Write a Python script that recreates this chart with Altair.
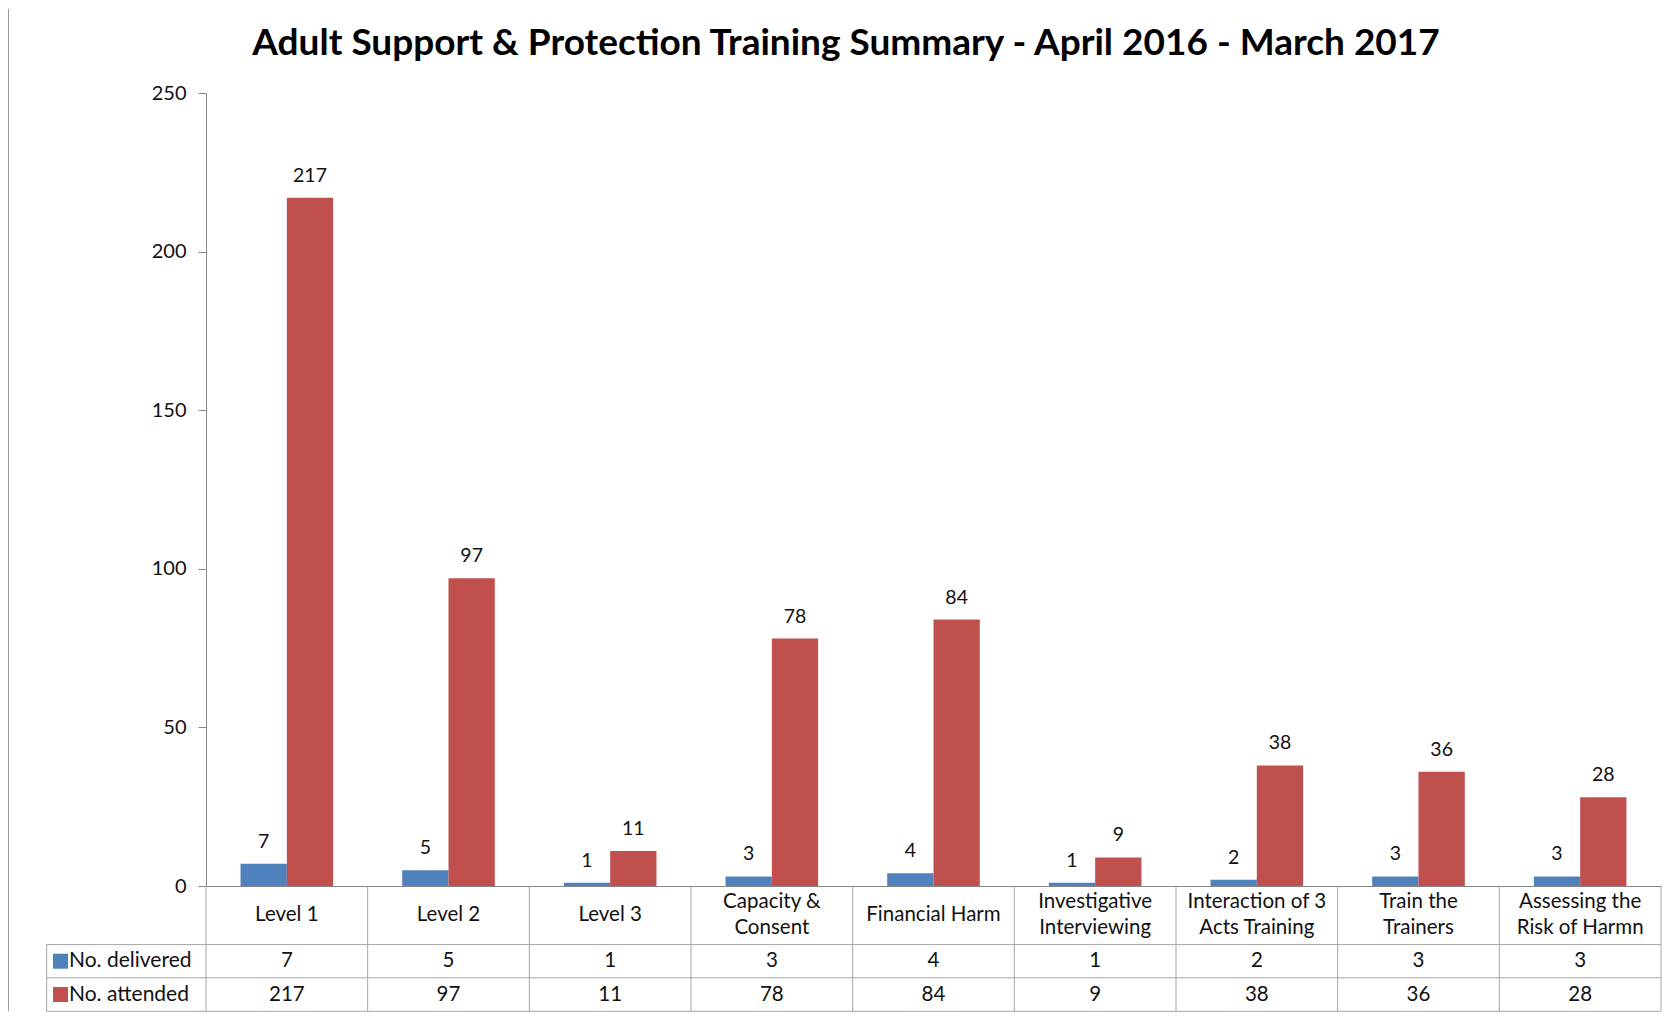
import altair as alt
import pandas as pd

# ---------------- data ----------------
title_text = "Adult Support & Protection Training Summary - April 2016 - March 2017"
categories = ["Level 1", "Level 2", "Level 3", "Capacity & Consent", "Financial Harm",
              "Investigative Interviewing", "Interaction of 3 Acts Training",
              "Train the Trainers", "Assessing the Risk of Harmn"]
category_labels = ["Level 1", "Level 2", "Level 3", "Capacity &\nConsent", "Financial Harm",
                   "Investigative\nInterviewing", "Interaction of 3\nActs Training",
                   "Train the\nTrainers", "Assessing the\nRisk of Harmn"]
series = ["No. delivered", "No. attended"]
delivered = [7, 5, 1, 3, 4, 1, 2, 3, 3]
attended = [217, 97, 11, 78, 84, 9, 38, 36, 28]
y_ticks = [0, 50, 100, 150, 200, 250]
colors = ["#4F81BD", "#C0504D"]

# ---------------- tables built from the lists ----------------
long_rows = []
for c, d, a in zip(categories, delivered, attended):
    long_rows.append({"category": c, "series": series[0], "value": d})
    long_rows.append({"category": c, "series": series[1], "value": a})
long_df = pd.DataFrame(long_rows)
cat_df = pd.DataFrame({"category": categories, "label": category_labels,
                       "delivered": delivered, "attended": attended})
cat_df["multiline"] = cat_df["label"].str.contains("\n")
series_df = pd.DataFrame({"series": series})

# ---------------- style / layout ----------------
FONT = "Lato"
W, H = 1455, 793
HEADER_H, ROW1_H, ROW2_H = 58.6, 33.2, 33.5
LEGCOL_W = 159.3
AXIS_C = "#868686"
GRID_C = "#A5A5A5"
TXT_C = "#111111"
FS_TABLE = 20.5
FS_AXIS = 20
FS_LABEL = 19.5
LINE_H = 25.7

y_hdr_mid = H + HEADER_H / 2
y_r1_top = H + HEADER_H
y_r2_top = y_r1_top + ROW1_H
y_bottom = y_r2_top + ROW2_H
row_mid = [y_r1_top + ROW1_H / 2, y_r2_top + ROW2_H / 2]

x_scale = alt.Scale(domain=categories, paddingInner=0, paddingOuter=0)
x_axis = alt.Axis(labels=False, ticks=False, title=None, domain=True,
                  domainColor=AXIS_C, domainWidth=1, grid=False)
xo_scale = alt.Scale(domain=series, paddingInner=0, paddingOuter=0.746)
color_scale = alt.Scale(domain=series, range=colors)
y_scale = alt.Scale(domain=[0, 250], nice=False, zero=True)
y_axis = alt.Axis(values=y_ticks, title=None, grid=False, domain=True,
                  domainColor=AXIS_C, tickColor=AXIS_C, tickSize=8,
                  labelFont=FONT, labelFontSize=FS_AXIS, labelColor=TXT_C,
                  labelPadding=12)


def X(**kw):
    return alt.X("category:N", scale=x_scale, axis=x_axis, sort=categories, **kw)


bars = alt.Chart(long_df).mark_bar().encode(
    x=X(),
    xOffset=alt.XOffset("series:N", scale=xo_scale, sort=series),
    y=alt.Y("value:Q", scale=y_scale, axis=y_axis),
    color=alt.Color("series:N", scale=color_scale, legend=None),
)

bar_labels = alt.Chart(long_df).mark_text(
    font=FONT, fontSize=FS_LABEL, color=TXT_C, baseline="alphabetic", dy=-16
).encode(
    x=X(),
    xOffset=alt.XOffset("series:N", scale=xo_scale, sort=series),
    y=alt.Y("value:Q", scale=y_scale, axis=y_axis),
    text="value:Q",
)

# table: vertical lines at category edges
vlines = alt.Chart(cat_df).mark_rule(color=GRID_C, strokeWidth=1).encode(
    x=X(bandPosition=0), y=alt.value(H), y2=alt.value(y_bottom))
vline_end = alt.Chart(cat_df).transform_filter(
    alt.datum.category == categories[-1]
).mark_rule(color=GRID_C, strokeWidth=1).encode(
    x=X(bandPosition=1), y=alt.value(H), y2=alt.value(y_bottom))

one = pd.DataFrame({"k": [0]})
hlines = []
for yy in [y_r1_top, y_r2_top, y_bottom]:
    hlines.append(alt.Chart(one).mark_rule(color=GRID_C, strokeWidth=1).encode(
        x=alt.value(-LEGCOL_W), x2=alt.value(W), y=alt.value(yy)))
leg_left = alt.Chart(one).mark_rule(color=GRID_C, strokeWidth=1).encode(
    x=alt.value(-LEGCOL_W), y=alt.value(y_r1_top), y2=alt.value(y_bottom))

# outer chart-area border (left side)
frame_left = alt.Chart(one).mark_rule(color="#9A9A9A", strokeWidth=1).encode(
    x=alt.value(-197.5), y=alt.value(-84.2), y2=alt.value(y_bottom))

# table: category header (single-line and two-line labels)
hdr_single = alt.Chart(cat_df[~cat_df["multiline"]]).mark_text(
    font=FONT, fontSize=FS_TABLE, color=TXT_C, baseline="middle"
).encode(x=X(bandPosition=0.5), y=alt.value(y_hdr_mid), text="label:N")
hdr_multi = alt.Chart(cat_df[cat_df["multiline"]]).mark_text(
    font=FONT, fontSize=FS_TABLE, color=TXT_C, baseline="middle", lineBreak="\n",
    lineHeight=LINE_H, dy=-LINE_H / 2
).encode(x=X(bandPosition=0.5), y=alt.value(y_hdr_mid), text="label:N")

row1 = alt.Chart(cat_df).mark_text(
    font=FONT, fontSize=FS_TABLE, color=TXT_C, baseline="middle"
).encode(x=X(bandPosition=0.5), y=alt.value(row_mid[0]), text="delivered:Q")
row2 = alt.Chart(cat_df).mark_text(
    font=FONT, fontSize=FS_TABLE, color=TXT_C, baseline="middle"
).encode(x=X(bandPosition=0.5), y=alt.value(row_mid[1]), text="attended:Q")

# table: legend keys + series names
legend_layers = []
for i, s in enumerate(series):
    sdf = series_df[series_df["series"] == s]
    legend_layers.append(alt.Chart(sdf).mark_square(size=225, opacity=1).encode(
        x=alt.value(-145.5), y=alt.value(row_mid[i]),
        color=alt.Color("series:N", scale=color_scale, legend=None)))
    legend_layers.append(alt.Chart(sdf).mark_text(
        font=FONT, fontSize=21, color=TXT_C,
        baseline="middle", align="left"
    ).encode(x=alt.value(-137), y=alt.value(row_mid[i]), text="series:N"))

chart = alt.layer(
    bars, bar_labels, vlines, vline_end, *hlines, leg_left, frame_left,
    hdr_single, hdr_multi, row1, row2, *legend_layers
).properties(
    width=W, height=H,
    title=alt.TitleParams(text=title_text, font=FONT, fontSize=37, fontWeight="bold",
                          color="#000000", anchor="middle", frame="group",
                          dx=-87.5, offset=-54.5),
    padding={"left": 0, "top": 0, "right": 5, "bottom": 0},
    background="white",
).configure_view(stroke="transparent")

chart.save("out.html", embed_options={"renderer": "svg", "actions": False})
